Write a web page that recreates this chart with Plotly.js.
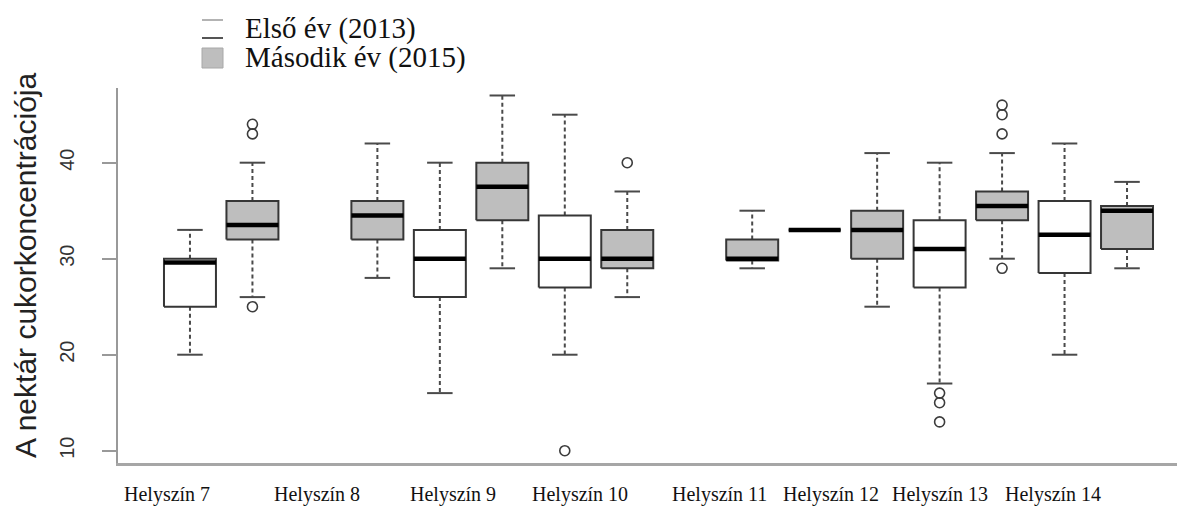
<!DOCTYPE html>
<html>
<head>
<meta charset="utf-8">
<script src="https://cdn.plot.ly/plotly-3.0.1.min.js"></script>
<style>
  html, body { margin: 0; padding: 0; background: #ffffff; }
  #chart { width: 1177px; height: 506px; }
</style>
</head>
<body>
<div id="chart"></div>
<script>
// Sampling sites and the two survey years
const sites = ['Helyszín 7', 'Helyszín 8', 'Helyszín 9', 'Helyszín 10',
               'Helyszín 11', 'Helyszín 12', 'Helyszín 13', 'Helyszín 14'];
const years = ['Első év (2013)', 'Második év (2015)'];

// Five-number summaries, first year (2013); null = no sample that year
const low2013 = [20, null, 16, 20, null, 33, 17, 20];
const q1_2013 = [25, null, 26, 27, null, 33, 27, 28.5];
const med2013 = [29.6, null, 30, 30, null, 33, 31, 32.5];
const q3_2013 = [30, null, 33, 34.5, null, 33, 34, 36];
const up2013  = [33, null, 40, 45, null, 33, 40, 42];
const out2013 = [[], [], [], [10], [], [], [16, 15, 13], []];

// Five-number summaries, second year (2015)
const low2015 = [26, 28, 29, 26, 29, 25, 30, 29];
const q1_2015 = [32, 32, 34, 29, 29.8, 30, 34, 31];
const med2015 = [33.5, 34.5, 37.5, 30, 30, 33, 35.5, 35];
const q3_2015 = [36, 36, 40, 33, 32, 35, 37, 35.5];
const up2015  = [40, 42, 47, 37, 35, 41, 41, 38];
const out2015 = [[25, 43, 44], [], [], [40], [], [], [29, 43, 45, 46], []];

const yTicks = [10, 20, 30, 40];
const yTitle = 'A nektár cukorkoncentrációja';

// ---- drawing ----
const groups = [
  { name: years[0], lo: low2013, q1: q1_2013, med: med2013, q3: q3_2013, up: up2013, out: out2013,
    fill: '#ffffff', offset: -0.25 },
  { name: years[1], lo: low2015, q1: q1_2015, med: med2015, q3: q3_2015, up: up2015, out: out2015,
    fill: '#bebebe', offset: 0.25 }
];
const HALF_BOX = 0.208;   // half box width, in site units
const HALF_CAP = 0.102;   // half whisker-cap width
const OUTLINE = '#363636';

const traces = [];
groups.forEach(g => {
  const rx = [], ry = [], wx = [], wy = [], cx = [], cy = [], mx = [], my = [], ox = [], oy = [];
  sites.forEach((s, i) => {
    if (g.med[i] === null) return;
    const xc = i + g.offset;
    const x0 = xc - HALF_BOX, x1 = xc + HALF_BOX;
    rx.push(x0, x1, x1, x0, x0, null);
    ry.push(g.q1[i], g.q1[i], g.q3[i], g.q3[i], g.q1[i], null);
    wx.push(xc, xc, null, xc, xc, null);
    wy.push(g.q3[i], g.up[i], null, g.q1[i], g.lo[i], null);
    cx.push(xc - HALF_CAP, xc + HALF_CAP, null, xc - HALF_CAP, xc + HALF_CAP, null);
    cy.push(g.up[i], g.up[i], null, g.lo[i], g.lo[i], null);
    mx.push(x0, x1, null);
    my.push(g.med[i], g.med[i], null);
    g.out[i].forEach(v => { ox.push(xc); oy.push(v); });
  });
  traces.push({ type: 'scatter', mode: 'lines', x: wx, y: wy, hoverinfo: 'skip', showlegend: false,
                line: { color: '#4a4a4a', width: 2, dash: '4px,3px' } });
  traces.push({ type: 'scatter', mode: 'lines', x: rx, y: ry, fill: 'toself', fillcolor: g.fill,
                name: g.name, showlegend: false, hoverinfo: 'skip',
                line: { color: OUTLINE, width: 2 } });
  traces.push({ type: 'scatter', mode: 'lines', x: cx, y: cy, hoverinfo: 'skip', showlegend: false,
                line: { color: '#4a4a4a', width: 2 } });
  traces.push({ type: 'scatter', mode: 'lines', x: mx, y: my, hoverinfo: 'skip', showlegend: false,
                line: { color: '#000000', width: 4.5 } });
  traces.push({ type: 'scatter', mode: 'markers', x: ox, y: oy, hoverinfo: 'skip', showlegend: false,
                marker: { symbol: 'circle-open', size: 10, color: '#3c3c3c', line: { width: 1.6 } } });
});

// pixel helpers for the decorations outside the plotting area
const L = 118, R = 1177, T = 88, B = 463;
const px = v => (v - L) / (R - L);
const py = v => (B - v) / (B - T);

const serif = '"Liberation Serif", "Times New Roman", serif';
const sans = '"Liberation Sans", Arial, sans-serif';

// site labels sit on their own text line below the axis (left-aligned, shifted from the pair centre)
const labelShift = [-99, -74, -63, -66, -51, -65, -81, -93];
const annotations = sites.map((s, i) => ({
  x: i, xref: 'x', y: py(494), yref: 'paper', text: s, showarrow: false,
  xanchor: 'left', yanchor: 'middle', xshift: labelShift[i],
  font: { family: serif, size: 20, color: '#111' }
}));
annotations.push({
  x: px(25), xref: 'paper', y: py(265), yref: 'paper', text: yTitle, textangle: -90,
  showarrow: false, xanchor: 'center', yanchor: 'middle',
  font: { family: sans, size: 30, color: '#222' }
});
// legend text
annotations.push({ x: px(243), xref: 'paper', y: py(28), yref: 'paper', text: years[0],
  showarrow: false, xanchor: 'left', yanchor: 'middle', font: { family: serif, size: 29, color: '#111' } });
annotations.push({ x: px(243), xref: 'paper', y: py(58), yref: 'paper', text: years[1],
  showarrow: false, xanchor: 'left', yanchor: 'middle', font: { family: serif, size: 29, color: '#111' } });

// legend keys
const shapes = [
  { type: 'rect', xref: 'paper', yref: 'paper', x0: px(202), x1: px(223), y0: py(20), y1: py(38),
    fillcolor: groups[0].fill, line: { width: 0 } },
  { type: 'line', xref: 'paper', yref: 'paper', x0: px(202), x1: px(223), y0: py(20), y1: py(20),
    line: { color: '#9a9a9a', width: 1.5 } },
  { type: 'line', xref: 'paper', yref: 'paper', x0: px(202), x1: px(223), y0: py(38), y1: py(38),
    line: { color: '#555', width: 2 } },
  { type: 'rect', xref: 'paper', yref: 'paper', x0: px(202), x1: px(223), y0: py(48), y1: py(68),
    fillcolor: groups[1].fill, line: { color: '#a8a8a8', width: 1 } }
];

const layout = {
  width: 1177, height: 506,
  margin: { l: L, r: 1177 - R, t: T, b: 506 - B, pad: 0 },
  paper_bgcolor: '#ffffff', plot_bgcolor: '#ffffff',
  showlegend: false,
  xaxis: {
    range: [-0.826, 7.65], showgrid: false, zeroline: false, showticklabels: false, ticks: '',
    showline: true, linecolor: '#a6a6a6', linewidth: 2.5, fixedrange: true
  },
  yaxis: {
    range: [8.72, 47.78], tickvals: yTicks, ticktext: yTicks.map(String),
    ticks: 'outside', ticklen: 14, tickwidth: 2, tickcolor: '#999',
    showline: true, linecolor: '#999', linewidth: 2,
    showgrid: false, zeroline: false, tickangle: -90, ticklabelstandoff: 20,
    tickfont: { family: sans, size: 20, color: '#333' }, fixedrange: true
  },
  annotations: annotations,
  shapes: shapes
};

Plotly.newPlot('chart', traces, layout, { staticPlot: true, displayModeBar: false });
</script>
</body>
</html>
